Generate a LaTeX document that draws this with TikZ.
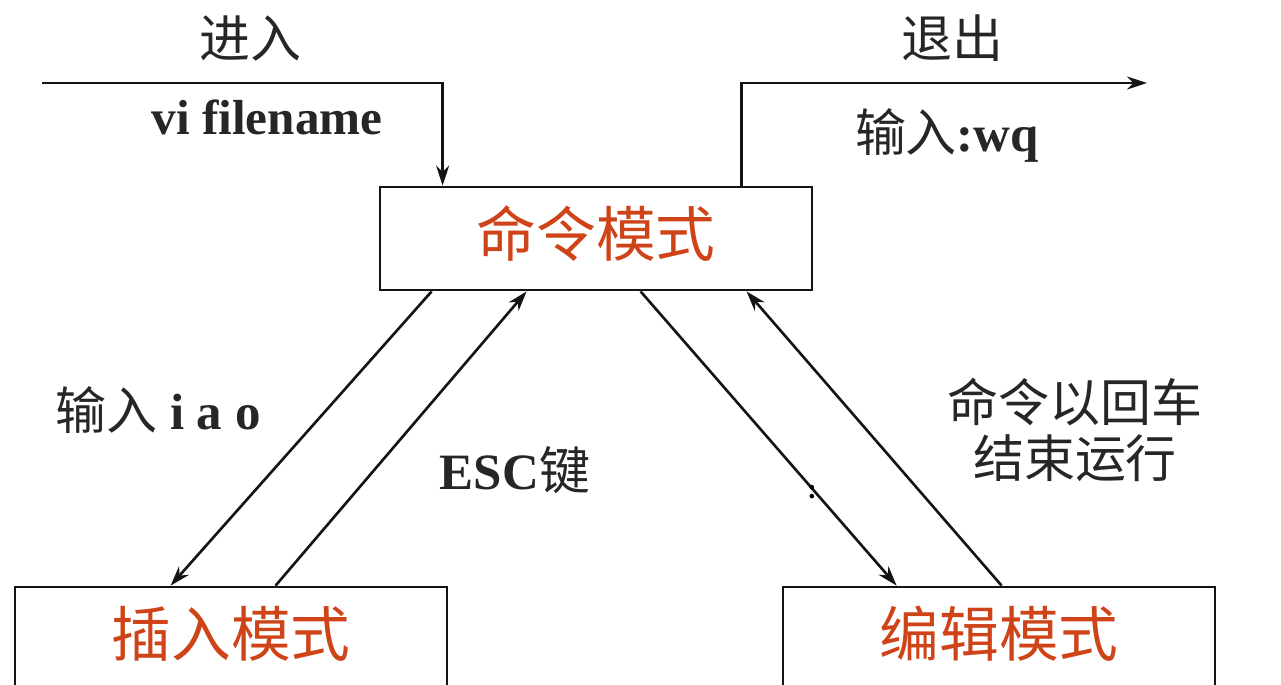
\documentclass[tikz,border=0pt]{standalone}
\usepackage{xcolor}
\usepackage{fontspec}
\usepackage{tikz}
\usetikzlibrary{arrows.meta,calc}
\setmainfont{Liberation Serif}
\newfontfamily\cjk{Noto Sans CJK SC}
\definecolor{modeRed}{HTML}{CE4418}
\definecolor{lineBlack}{HTML}{141414}
\tikzset{
  modebox/.style={draw=lineBlack, line width=1.6pt, minimum width=8.64cm,
        minimum height=2.06cm, align=center, text=modeRed, text depth=0.3cm,
        font=\fontsize{34}{38}\selectfont\cjk},
  trans/.style={-{Stealth[length=4mm, width=2.6mm]}, line width=1.5pt, draw=lineBlack},
  lab/.style={font=\fontsize{29}{32}\selectfont, text=black!85, inner sep=1pt},
  blab/.style={font=\fontsize{28}{32}\selectfont\bfseries, text=black!85, inner sep=1pt}
}
\begin{document}
\begin{tikzpicture}[x=0.02cm, y=-0.02cm]
\useasboundingbox (0,0) rectangle (1281,684);

\node[modebox] (cmd) at (596,238.5) {命令模式};
\node[modebox] (ins) at (231,638.5) {插入模式};
\node[modebox] (edt) at (999,638.5) {编辑模式};

% enter and quit
\coordinate (start) at (42,83);
\coordinate (stop) at (1147,83);
\draw[trans] (start) -- ([xshift=1.28cm]cmd.north west |- start)
    -- ([xshift=1.28cm]cmd.north west);
\draw[trans] ([xshift=7.26cm]cmd.north west) -- ([xshift=7.26cm]cmd.north west |- stop)
    -- (stop);

\node[lab] (enter) at (250,38) {\cjk 进入};
\node[blab] (vicmd) at (267,117) {vi filename};
\node[lab] (quit) at (952,38) {\cjk 退出};
\node[lab] (wq) at (947,135) {{\cjk 输入}\textbf{:wq}};

% command <-> insert
\draw[trans] ([xshift=1.06cm]cmd.south west) -- ([xshift=3.14cm]ins.north west);
\draw[trans] ([xshift=5.24cm]ins.north west) -- ([xshift=2.96cm]cmd.south west);
\node[lab] (iao) at (158,410) {{\cjk 输入}\textbf{\ i\ a\ o}};
\node[lab] (esc) at (515,470) {\textbf{ESC}{\cjk 键}};

% command <-> edit
\draw[trans] ([xshift=5.24cm]cmd.south west) -- ([xshift=2.3cm]edt.north west);
\draw[trans] ([xshift=4.4cm]edt.north west) -- ([xshift=7.36cm]cmd.south west);
\node[lab, align=center] (run) at (1075,430) {\cjk 命令以回车\\\cjk 结束运行};
\node[font=\fontsize{16}{18}\selectfont\bfseries, inner sep=0pt] (colon) at (812,492) {:};
\end{tikzpicture}
\end{document}
